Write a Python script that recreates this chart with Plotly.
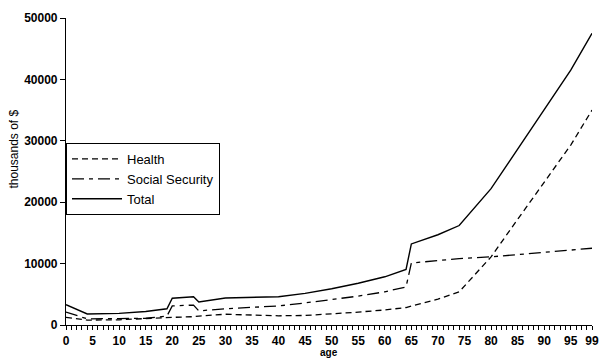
import plotly.graph_objects as go

# Ages at which the profiles were read (piecewise-linear between them)
ages = [0, 4, 10, 15, 19, 20, 24, 25, 30, 35, 40, 45, 50, 55, 60, 64, 65,
        70, 74, 80, 85, 90, 95, 99]

# Thousands of dollars per person, by age
health = [1250, 800, 850, 1100, 1200, 1250, 1350, 1450, 1750, 1650, 1500,
          1550, 1800, 2100, 2450, 2850, 3100, 4200, 5400, 11100, 17200,
          23300, 29300, 35000]
social_security = [2100, 1000, 1050, 1100, 1450, 3100, 3250, 2300, 2650, 2900,
                   3100, 3600, 4100, 4700, 5400, 6200, 10100, 10500, 10800,
                   11100, 11500, 11900, 12200, 12500]
total = [3300, 1800, 1900, 2200, 2650, 4350, 4600, 3750, 4400, 4550, 4600,
         5150, 5900, 6800, 7850, 9050, 13200, 14700, 16200, 22200, 28700,
         35200, 41500, 47500]

x_tick_vals = list(range(0, 100))
x_tick_text = [str(a) if (a % 5 == 0 or a == 99) else "" for a in x_tick_vals]
y_tick_vals = [0, 10000, 20000, 30000, 40000, 50000]

FONT = "Liberation Sans, Arial, sans-serif"

fig = go.Figure()
fig.add_trace(go.Scatter(x=ages, y=health, mode="lines", name="Health",
                         line=dict(color="black", width=1.3, dash="6px,4px")))
fig.add_trace(go.Scatter(x=ages, y=social_security, mode="lines",
                         name="Social Security",
                         line=dict(color="black", width=1.3,
                                   dash="12px,5px,4px,5px")))
fig.add_trace(go.Scatter(x=ages, y=total, mode="lines", name="Total",
                         line=dict(color="black", width=1.4)))

fig.update_layout(
    width=607, height=361,
    margin=dict(l=66, r=8, t=18, b=36),
    paper_bgcolor="white", plot_bgcolor="white",
    showlegend=True,
    legend=dict(x=0, y=0.593, xanchor="left", yanchor="top",
                bgcolor="white", bordercolor="black", borderwidth=1,
                font=dict(family=FONT, size=13, color="black"),
                itemwidth=50, tracegroupgap=0),
    xaxis=dict(range=[0, 99], tickmode="array", tickvals=x_tick_vals,
               ticktext=x_tick_text, ticks="outside", ticklen=4,
               tickcolor="black", showline=True, linecolor="black",
               linewidth=1.2, showgrid=False, zeroline=False,
               tickfont=dict(family=FONT, size=12, color="black",
                             weight="bold")),
    yaxis=dict(range=[0, 50000], tickmode="array", tickvals=y_tick_vals,
               ticktext=[str(v) for v in y_tick_vals], ticks="outside",
               ticklen=5, tickcolor="black", showline=True,
               linecolor="black", linewidth=1.2, showgrid=False,
               zeroline=False,
               tickfont=dict(family=FONT, size=12, color="black",
                             weight="bold")),
    annotations=[
        dict(text="thousands of $", xref="paper", yref="paper",
             x=-0.098, y=0.573, xanchor="center", yanchor="middle",
             textangle=-90, showarrow=False,
             font=dict(family=FONT, size=12, color="black")),
        dict(text="age", xref="paper", yref="paper", x=0.5, y=-0.089,
             xanchor="center", yanchor="middle", showarrow=False,
             font=dict(family=FONT, size=10, color="black", weight="bold")),
    ],
)

fig.write_html("out.html")
